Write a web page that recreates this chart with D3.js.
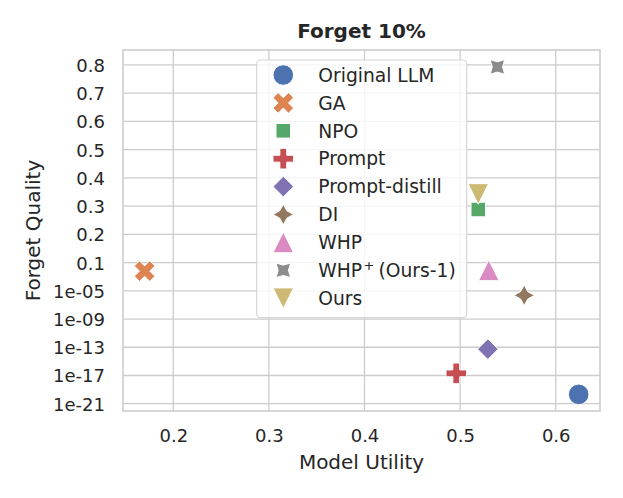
<!DOCTYPE html>
<html><head><meta charset="utf-8">
<script src="https://cdn.jsdelivr.net/npm/d3@7"></script>
<style>
html,body{margin:0;padding:0;background:#fff;}
svg text{font-family:"DejaVu Sans",sans-serif;fill:#262626;}
</style></head>
<body><svg id="chart" width="623" height="498"></svg>
<script>
// ---- data ----
const methods = ["Original LLM","GA","NPO","Prompt","Prompt-distill","DI","WHP","WHP+ (Ours-1)","Ours"];
const modelUtility = [0.624, 0.170, 0.519, 0.496, 0.529, 0.567, 0.530, 0.539, 0.519];
const forgetQuality = [2.1e-20, 0.0062, 0.288, 2.0e-17, 5.4e-14, 2.3e-6, 0.0079, 0.793, 0.343];
const colors = ["#4C72B0","#DD8452","#55A868","#C44E52","#8172B3","#937860","#DA8BC3","#8C8C8C","#CCB974"];
const markers = ["circle","xfilled","square","plus","diamond","star","triUp","star45","triDown"];
const yTickValues = [0.8,0.7,0.6,0.5,0.4,0.3,0.2,0.1,1e-5,1e-9,1e-13,1e-17,1e-21];
const yTickLabels = ["0.8","0.7","0.6","0.5","0.4","0.3","0.2","0.1","1e-05","1e-09","1e-13","1e-17","1e-21"];
const xTickValues = [0.2,0.3,0.4,0.5,0.6];

// ---- layout ----
const L = 123, R = 600, T = 50, B = 411;
const svg = d3.select("#chart");

// piecewise y transform: linear above 0.1, log (4 decades per step) below
function yIndex(v){ return v >= 0.1 ? 5 + (v - 0.1) / 0.1 : 5 + (Math.log10(v) + 1) / 4; }
const x = d3.scaleLinear().domain([0.1474, 0.6463]).range([L, R]);
const y = d3.scaleLinear().domain([-0.258, 12.53]).range([B, T]);

// grid
const g = svg.append("g");
g.selectAll(".gx").data(xTickValues).enter().append("line")
  .attr("x1", d => x(d)).attr("x2", d => x(d)).attr("y1", T).attr("y2", B)
  .attr("stroke", "#cccccc").attr("stroke-width", 1.3);
g.selectAll(".gy").data(yTickValues).enter().append("line")
  .attr("y1", d => y(yIndex(d))).attr("y2", d => y(yIndex(d))).attr("x1", L).attr("x2", R)
  .attr("stroke", "#cccccc").attr("stroke-width", 1.3);

// axes (labels only)
const xAxis = d3.axisBottom(x).tickValues(xTickValues).tickFormat(d3.format(".1f")).tickSize(0).tickPadding(0);
const xa = svg.append("g").attr("transform", `translate(0,${B})`).call(xAxis);
xa.select(".domain").remove();
xa.selectAll("text").attr("y", 31).attr("dy", null).style("font-size", "18px").attr("fill", "#262626");

const yAxis = d3.axisLeft(y).tickValues(yTickValues.map(yIndex))
  .tickFormat((d, i) => yTickLabels[i]).tickSize(0).tickPadding(0);
const ya = svg.append("g").attr("transform", `translate(${L},0)`).call(yAxis);
ya.select(".domain").remove();
ya.selectAll("text").attr("x", -18).attr("dy", "0.36em").style("font-size", "18px").attr("fill", "#262626");

// frame
svg.append("rect").attr("x", L).attr("y", T).attr("width", R - L).attr("height", B - T)
  .attr("fill", "none").attr("stroke", "#cccccc").attr("stroke-width", 1.6);

// marker shapes
const MR = 10.3;
function poly(pts){ return "M" + pts.map(p => p[0].toFixed(2) + "," + p[1].toFixed(2)).join("L") + "Z"; }
function starPts(rot){
  const pts = [];
  for (let k = 0; k < 8; k++){
    const a = Math.PI / 2 + k * Math.PI / 4 + rot * Math.PI / 180;
    const r = k % 2 === 0 ? MR : MR * 0.5;
    pts.push([r * Math.cos(a), -r * Math.sin(a)]);
  }
  return pts;
}
function shapePath(m){
  switch (m){
    case "circle": return d3.symbol(d3.symbolCircle, Math.PI * MR * MR)();
    case "xfilled": return poly([[-1,-2],[0,-1],[1,-2],[2,-1],[1,0],[2,1],[1,2],[0,1],[-1,2],[-2,1],[-1,0],[-2,-1]].map(p => [p[0]*MR/2, p[1]*MR/2]));
    case "square": { const h = MR * Math.SQRT1_2; return poly([[-h,-h],[h,-h],[h,h],[-h,h]]); }
    case "plus": return poly([[-1,-3],[1,-3],[1,-1],[3,-1],[3,1],[1,1],[1,3],[-1,3],[-1,1],[-3,1],[-3,-1],[-1,-1]].map(p => [p[0]*MR/3, p[1]*MR/3]));
    case "diamond": return poly([[0,-MR],[MR,0],[0,MR],[-MR,0]]);
    case "star": return poly(starPts(0));
    case "star45": return poly(starPts(45));
    case "triUp": return poly([[0,-MR],[-MR,MR],[MR,MR]]);
    case "triDown": return poly([[0,MR],[-MR,-MR],[MR,-MR]]);
  }
}

// points
const pts = methods.map((m, i) => ({m, i, xv: modelUtility[i], yv: forgetQuality[i]}));
svg.append("g").selectAll("path").data(pts).enter().append("path")
  .attr("d", d => shapePath(markers[d.i]))
  .attr("transform", d => `translate(${x(d.xv)},${y(yIndex(d.yv))})`)
  .attr("fill", d => colors[d.i]).attr("stroke", "#fff").attr("stroke-width", 1);

// title & labels
svg.append("text").attr("x", (L + R) / 2).attr("y", 38).attr("text-anchor", "middle")
  .style("font-size", "20px").style("font-weight", "bold").text("Forget 10%");
svg.append("text").attr("x", (L + R) / 2).attr("y", 468.5).attr("text-anchor", "middle")
  .style("font-size", "20px").text("Model Utility");
svg.append("text").attr("transform", `translate(40,${(T + B) / 2}) rotate(-90)`).attr("text-anchor", "middle")
  .style("font-size", "20px").text("Forget Quality");

// legend
const lg = svg.append("g");
lg.append("rect").attr("x", 256.7).attr("y", 60).attr("width", 210).attr("height", 257.7)
  .attr("rx", 4).attr("fill", "#fff").attr("fill-opacity", 0.8)
  .attr("stroke", "#d6d6d6").attr("stroke-width", 1.2);
const rows = lg.selectAll("g.row").data(pts).enter().append("g")
  .attr("transform", d => `translate(0,${75 + d.i * 27.9})`);
rows.append("path").attr("d", d => shapePath(markers[d.i])).attr("transform", "translate(283.3,0)")
  .attr("fill", d => colors[d.i]).attr("stroke", "#fff").attr("stroke-width", 1);
rows.each(function(d){
  const t = d3.select(this).append("text").attr("x", 318.3).attr("dy", "0.36em").style("font-size", "18.7px");
  if (d.m.startsWith("WHP+")){
    t.append("tspan").text("WHP");
    t.append("tspan").attr("x", 363.5).attr("dy", -7.5).style("font-size", "13px").text("+");
    t.append("tspan").attr("x", 378.5).attr("dy", 7.5).text("(Ours-1)");
  } else {
    t.text(d.m);
  }
});
</script>
</body></html>
